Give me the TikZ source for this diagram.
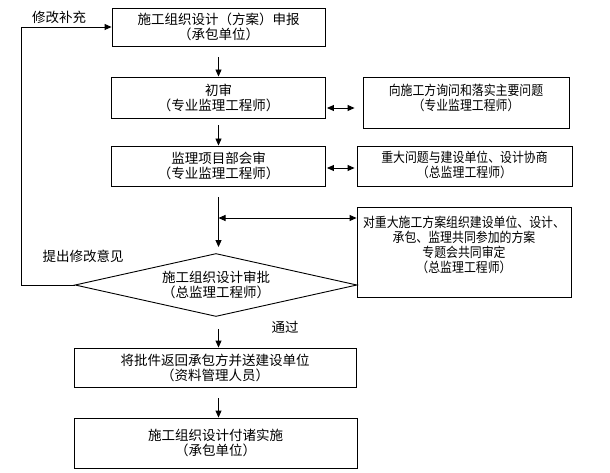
\documentclass[tikz,border=0pt]{standalone}
\usepackage{fontspec}
\setmainfont{Noto Sans CJK SC}
\newfontfamily\cjknarrow[FakeStretch=0.88]{Noto Sans CJK SC}
\usetikzlibrary{arrows.meta,shapes.geometric}
\begin{document}
\begin{tikzpicture}[x=1pt,y=-1pt,
  box/.style={draw, line width=0.9pt, inner sep=0pt, align=center, font=\fontsize{13.5}{15}\selectfont},
  ebox/.style={draw, line width=0.9pt, inner sep=0pt},
  ntext/.style={inner sep=0pt, align=center, font=\cjknarrow\fontsize{13.5}{15}\selectfont},
  arr/.style={line width=0.9pt, -{Triangle[length=7pt,width=6pt]}},
  darr/.style={line width=0.9pt, {Triangle[length=7pt,width=6pt]}-{Triangle[length=7pt,width=6pt]}},
  lbl/.style={inner sep=0pt, font=\fontsize{13.5}{15}\selectfont}]
\useasboundingbox[fill=white] (0,0) rectangle (610,473);

% left column
\node[box, minimum width=213, minimum height=38] (b1) at (218.5,27) {施工组织设计（方案）申报\\（承包单位）};
\node[box, minimum width=214, minimum height=41] (b2) at (218.5,97.5) {初审\\（专业监理工程师）};
\node[box, minimum width=214, minimum height=40] (b3) at (218.5,166) {监理项目部会审\\（专业监理工程师）};
\node[draw, line width=0.9pt, diamond, aspect=4.48, inner sep=0pt, minimum width=282, minimum height=63,
      align=center, font=\fontsize{13.5}{15}\selectfont] (d) at (216,285) {施工组织设计审批\\（总监理工程师）};
\node[box, minimum width=282, minimum height=39] (b4) at (215,367.5) {将批件返回承包方并送建设单位\\（资料管理人员）};
\node[box, minimum width=283, minimum height=50] (b5) at (215.5,443) {施工组织设计付诸实施\\（承包单位）};

% right column
\node[ebox, minimum width=206, minimum height=51] (ba) at (466,102.5) {};
\node[ntext] (bat) at (466,97.5) {向施工方询问和落实主要问题\\（专业监理工程师）};
\node[ebox, minimum width=215, minimum height=40] (bb) at (464.5,166) {};
\node[ntext] (bbt) at (464.5,165) {重大问题与建设单位、设计协商\\（总监理工程师）};
\node[ebox, minimum width=214, minimum height=90] (bc) at (464,252.5) {};
\node[ntext] (bct) at (464,244.5) {对重大施工方案组织建设单位、设计、\\承包、监理共同参加的方案\\专题会共同审定\\（总监理工程师）};

% labels
\node[lbl] (l1) at (59,17) {修改补充};
\node[lbl] (l2) at (83,256) {提出修改意见};
\node[lbl] (l3) at (285,327) {通过};

% vertical arrows
\draw[arr, shorten <=11pt] (b1.south) -- (b2.north);
\draw[arr, shorten <=7pt] (b2.south) -- (b3.north);
\draw[arr, shorten <=11pt, shorten >=6pt] (b3.south) -- (b3.south |- d.north);
\draw[arr, shorten <=12pt] (b3.south |- d.south) -- (b3.south |- b4.north);
\draw[arr, shorten <=11pt] (b3.south |- b4.south) -- (b3.south |- b5.north);

% double arrows
\draw[darr, shorten <=1pt, shorten >=8pt] ([yshift=-10.5pt]b2.east) -- ([yshift=-10.5pt]b2.east -| ba.west);
\draw[darr, shorten <=1pt, shorten >=2pt] ([yshift=-2pt]b3.east) -- ([yshift=-2pt]b3.east -| bb.west);
\coordinate (j) at (218.5,218);
\draw[darr] (j) -- (j -| bc.west);

% feedback loop
\coordinate (fb) at (21,0);
\draw[arr] (d.west) -- (d.west -| fb) |- (b1.west);
\end{tikzpicture}
\end{document}
